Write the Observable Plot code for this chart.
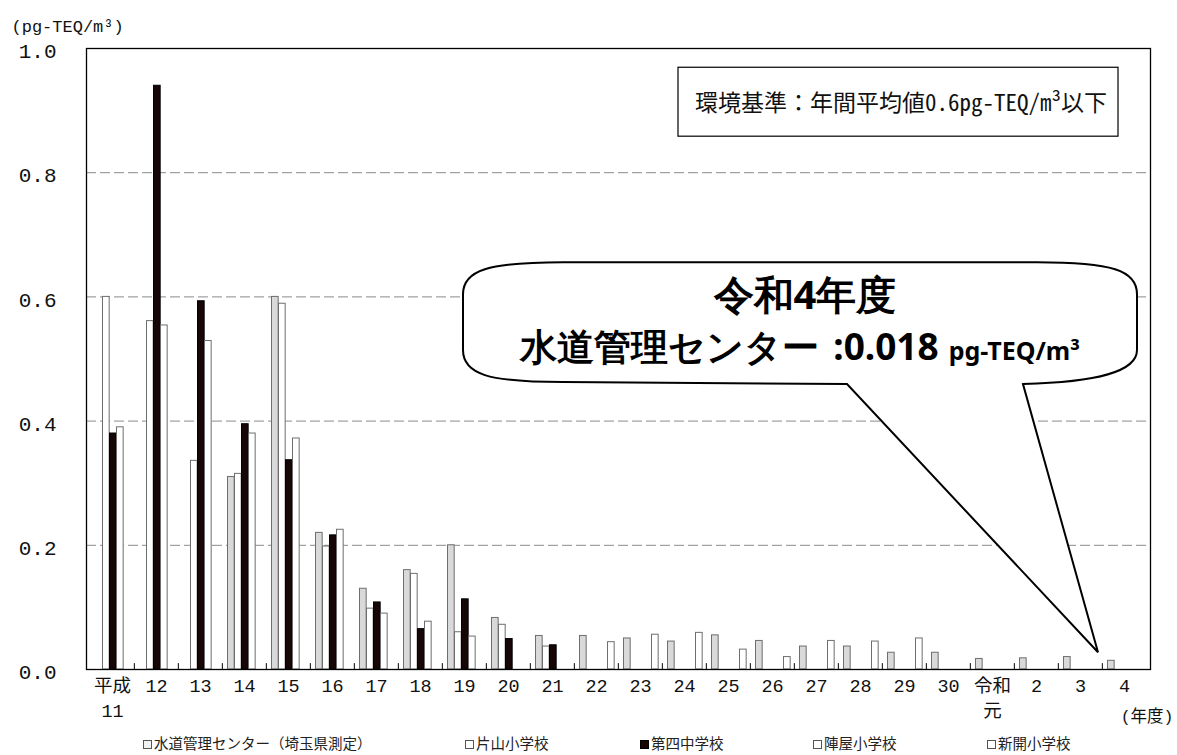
<!DOCTYPE html>
<html><head><meta charset="utf-8">
<script src="https://cdn.jsdelivr.net/npm/d3@7"></script>
<script src="https://cdn.jsdelivr.net/npm/@observablehq/plot@0.6"></script>
<style>
body{margin:0;background:#fff;font-family:"Noto Sans CJK JP",sans-serif;}
#legend{position:relative;height:23px;width:1177px;font-size:14.5px;color:#222;font-family:"Noto Sans CJK JP",sans-serif;}
#legend .item{position:absolute;top:1px;white-space:nowrap;line-height:20px;}
#legend i{display:inline-block;width:7px;height:7px;border:1px solid #555;margin-right:2px;vertical-align:middle;position:relative;top:-1px;}
</style></head><body><div id="chart"></div><div id="legend"></div>
<script>
// ---- data ----
const years = ["H11","H12","H13","H14","H15","H16","H17","H18","H19","H20","H21","H22","H23","H24","H25","H26","H27","H28","H29","H30","R1","R2","R3","R4"];
const labelTop = ["平成","12","13","14","15","16","17","18","19","20","21","22","23","24","25","26","27","28","29","30","令和","2","3","4"];
const labelBottom = ["11","","","","","","","","","","","","","","","","","","","","元","","",""];
const seriesNames = ["水道管理センター（埼玉県測定）","片山小学校","第四中学校","陣屋小学校","新開小学校"];
const suidou   = [null,null,null,0.31,0.60,0.22,0.13,0.16,0.20,0.083,0.054,0.054,0.050,0.045,0.055,0.046,0.037,0.037,0.027,0.027,0.017,0.018,0.020,0.014];
const katayama = [0.60,0.561,0.336,0.315,0.589,0.198,0.098,0.154,0.060,0.072,0.037,null,null,null,null,null,null,null,null,null,null,null,null,null];
const daiyon   = [0.38,0.94,0.593,0.395,0.337,0.216,0.108,0.065,0.113,0.049,0.039,null,null,null,null,null,null,null,null,null,null,null,null,null];
const jinya    = [0.39,0.554,0.529,0.38,0.372,0.225,0.090,0.077,0.053,null,null,null,null,null,null,null,null,null,null,null,null,null,null,null];
const shinkai  = [null,null,null,null,null,null,null,null,null,null,null,0.044,0.056,0.059,0.032,0.020,0.046,0.045,0.050,null,null,null,null,null];
const yTicks = [0,0.2,0.4,0.6,0.8,1.0];
const gridTicks = [0.2,0.4,0.6,0.8];

// ---- styling ----
const seriesValues = [suidou, katayama, daiyon, jinya, shinkai];
const fills   = ["#d9d9d9","#ffffff","#160606","#ffffff","#ffffff"];
const strokes = ["#6e6e6e","#6e6e6e","#000000","#6e6e6e","#6e6e6e"];
const legendBox = ["#f2f2f2","#ffffff","#160606","#ffffff","#ffffff"];
const legendX = [143,465,640,813,987];
const mono = "'Liberation Mono','Noto Sans CJK JP',monospace";
const monoJ = "'Noto Sans Mono CJK JP','Noto Sans CJK JP','Liberation Mono',monospace";

const W = 1177, H = 732, mL = 86, mR = 27, mT = 48, mB = 63;
const bw = (W - mL - mR) / years.length;
const pad = 5.5, barW = 7.0;

const rows = seriesValues.map((arr, s) =>
  arr.map((v, j) => ({year: years[j], series: seriesNames[s], value: v})).filter(d => d.value != null));

const barMarks = rows.map((data, s) => Plot.barY(data, {
  x: "year", y: "value",
  fill: fills[s], stroke: strokes[s], strokeWidth: 1,
  insetLeft: pad + barW * s, insetRight: bw - pad - barW * (s + 1)
}));

const plot = Plot.plot({
  width: W, height: H,
  marginLeft: mL, marginRight: mR, marginTop: mT, marginBottom: mB,
  style: {background: "#fff", color: "#111", fontWeight: "400"},
  x: {type: "band", domain: years, padding: 0, axis: null},
  y: {domain: [0, 1], axis: null},
  marks: [
    Plot.ruleY(gridTicks, {stroke: "#8a8a8a", strokeDasharray: "10,4", strokeWidth: 1}),
    ...barMarks,
    Plot.ruleX(years.slice(1), {x: d => d, y1: 0, y2: 0.0095, dx: -bw / 2, stroke: "#000"}),
    Plot.frame({stroke: "#000", strokeWidth: 1.3}),
    Plot.axisY({ticks: yTicks, tickFormat: d3.format(".1f"), tickSize: 0, tickPadding: 30, fontSize: 21, fontFamily: mono, fontWeight: "400", dy: 3, label: null}),
    Plot.text(years, {x: d => d, text: (d, i) => labelTop[i], frameAnchor: "bottom", dy: 17, lineAnchor: "middle", fontSize: 18.5, fontFamily: mono, fontWeight: "400", fill: "#111"}),
    Plot.text(years, {x: d => d, text: (d, i) => labelBottom[i], frameAnchor: "bottom", dy: 42, lineAnchor: "middle", fontSize: 18.5, fontFamily: mono, fontWeight: "400", fill: "#111"}),
    Plot.text(["(年度)"], {text: d => d, frameAnchor: "bottom-right", dx: 23, dy: 47, textAnchor: "end", lineAnchor: "middle", fontSize: 16.5, fontFamily: mono, fontWeight: "400", fill: "#111"}),
    Plot.text(["(pg-TEQ/m³)"], {text: d => d, frameAnchor: "top-left", dx: -75, dy: -22, textAnchor: "start", lineAnchor: "middle", fontSize: 17, fontFamily: mono, fontWeight: "400", fill: "#111"})
  ]
});
document.getElementById("chart").appendChild(plot);

// ---- annotations (positioned through the plot's scales) ----
const xs = plot.scale("x"), ys = plot.scale("y");
const svg = d3.select(plot);
const g = svg.append("g");

// standard box
const bx0 = xs.apply("H24") + 16, bx1 = xs.apply("R4") + 16;
const by0 = ys.apply(0.969), by1 = ys.apply(0.858);
g.append("rect").attr("x", bx0).attr("y", by0).attr("width", bx1 - bx0).attr("height", by1 - by0)
  .attr("fill", "#fff").attr("stroke", "#000").attr("stroke-width", 1.2);
g.append("text").attr("x", (bx0 + bx1) / 2 + 3).attr("y", (by0 + by1) / 2 + 1).attr("dy", "0.35em")
  .attr("text-anchor", "middle").attr("font-size", 23).attr("font-family", monoJ).attr("font-weight", 400).attr("fill", "#111")
  .text("環境基準：年間平均値0.6pg-TEQ/m³以下");

// callout bubble
const L = 463, R = 1137, T = ys.apply(0.655), B = ys.apply(0.462);
const tipX = xs.apply("R4") - 4, tipY = ys.apply(0.027);
const tl = 847, tr = 1023;
const path = `M ${L+100},${T} L ${R-100},${T} C ${R-25},${T} ${R},${T+8} ${R},${T+32}
  L ${R},${B-32} C ${R},${B-10} ${R-40},${B} ${tr},${B+2} L ${tipX},${tipY} L ${tl},${B+2}
  L ${L+100},${B} C ${L+25},${B} ${L},${B-8} ${L},${B-32} L ${L},${T+32} C ${L},${T+8} ${L+25},${T} ${L+100},${T} Z`;
g.append("path").attr("d", path).attr("fill", "#fff").attr("stroke", "#000").attr("stroke-width", 2).attr("stroke-linejoin", "miter");
g.append("text").attr("x", 805).attr("y", 295).attr("dy", "0.35em").attr("text-anchor", "middle")
  .attr("font-size", 40).attr("font-weight", 700).attr("fill", "#000").text("令和4年度");
const t2 = g.append("text").attr("x", 800).attr("y", 356).attr("dy", "0.35em").attr("text-anchor", "middle")
  .attr("font-weight", 700).attr("fill", "#000");
t2.append("tspan").attr("font-size", 37).text("水道管理センター");
t2.append("tspan").attr("font-size", 37).attr("dx", 14).text(":0.018");
t2.append("tspan").attr("font-size", 25).attr("dx", 10).text("pg-TEQ/m³");

// ---- legend ----
const leg = d3.select("#legend");
seriesNames.forEach((name, s) => {
  const it = leg.append("span").attr("class", "item").style("left", legendX[s] + "px");
  it.append("i").style("background", legendBox[s]).style("border-color", s === 2 ? "#000" : "#555");
  it.append("span").text(name);
});
</script></body></html>
